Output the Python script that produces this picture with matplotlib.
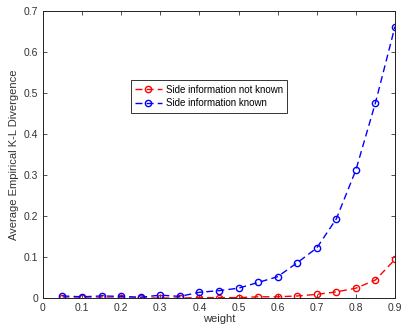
import matplotlib
matplotlib.use("Agg")
import matplotlib.pyplot as plt

plt.rcParams['font.family'] = ['Liberation Sans', 'DejaVu Sans']

weight = [0.05, 0.1, 0.15, 0.2, 0.25, 0.3, 0.35, 0.4, 0.45, 0.5,
          0.55, 0.6, 0.65, 0.7, 0.75, 0.8, 0.85, 0.9]
kl_not_known = [0.000, 0.000, 0.000, 0.000, 0.000, 0.000, 0.000, 0.001, 0.001, 0.001,
                0.003, 0.003, 0.005, 0.009, 0.015, 0.024, 0.044, 0.094]
kl_known = [0.005, 0.003, 0.005, 0.004, 0.002, 0.007, 0.004, 0.014, 0.018, 0.024,
            0.038, 0.052, 0.086, 0.122, 0.193, 0.312, 0.476, 0.662]
xticks = [0, 0.1, 0.2, 0.3, 0.4, 0.5, 0.6, 0.7, 0.8, 0.9]
yticks = [0, 0.1, 0.2, 0.3, 0.4, 0.5, 0.6, 0.7]

fig = plt.figure(figsize=(4.01, 3.33), dpi=100)
ax = fig.add_axes([0.107, 0.105, 0.878, 0.862])

ax.plot(weight, kl_not_known, color='red', linestyle='--', marker='o',
        markerfacecolor='none', markersize=4.5, linewidth=1.0, dashes=(5, 3),
        label='Side information not known')
ax.plot(weight, kl_known, color='blue', linestyle='--', marker='o',
        markerfacecolor='none', markersize=4.5, linewidth=1.0, dashes=(5, 3),
        label='Side information known')

ax.set_xlim(0, 0.9)
ax.set_ylim(0, 0.7)
ax.set_xticks(xticks)
ax.set_yticks(yticks)
ax.set_xticklabels([f"{t:g}" for t in xticks])
ax.set_yticklabels([f"{t:g}" for t in yticks])
ax.tick_params(direction='in', top=True, right=True, labelsize=7.5,
               length=3, width=0.6, colors='#333333', labelcolor='#333333')
for s in ax.spines.values():
    s.set_linewidth(0.7)
    s.set_color('#222222')

ax.set_xlabel('weight', fontsize=8, color='#333333', labelpad=1)
ax.set_ylabel('Average Empirical K-L Divergence', fontsize=8, color='#333333', labelpad=3)

leg = ax.legend(loc='upper left', bbox_to_anchor=(0.235, 0.775), fontsize=7,
                frameon=True, fancybox=False, edgecolor='black', borderpad=0.45,
                handlelength=2.8, labelspacing=0.35, handletextpad=0.4)
leg.get_frame().set_linewidth(0.7)

fig.savefig('out.png', dpi=100)
